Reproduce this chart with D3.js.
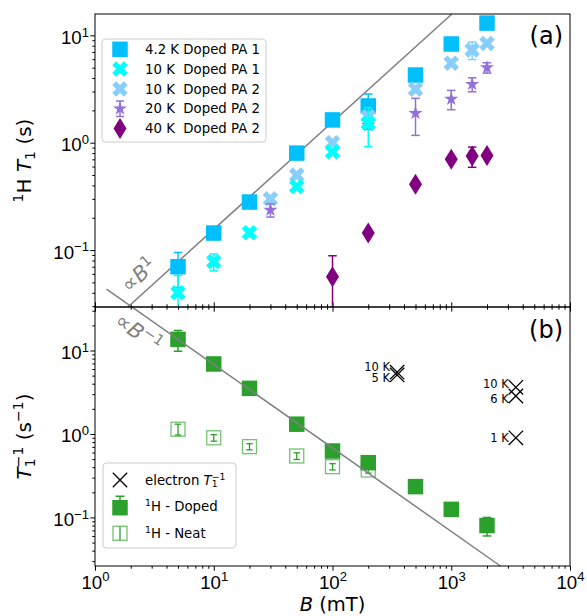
<!DOCTYPE html>
<html>
<head>
<meta charset="utf-8">
<script src="https://cdn.jsdelivr.net/npm/d3@7"></script>
<style>
body { margin: 0; background: #fff; }
svg { font-family: "DejaVu Sans", sans-serif; }
</style>
</head>
<body>
<script>
// ---- axes ----
var xDomain = [1, 1e4];
var yDomainA = [0.0295, 15.8];
var yDomainB = [0.0262, 33.2];
var xMajor = [1, 10, 100, 1000, 10000];
var yMajor = [0.1, 1, 10];

// ---- panel (a): 1H T1 (s) vs B (mT) ----
var b42 = [5, 10, 20, 50, 100, 200, 500, 1000, 2000];
var t42 = [0.070, 0.144, 0.28, 0.80, 1.63, 2.2, 4.27, 8.3, 13.0];
var e42 = [0.025, 0, 0, 0, 0, 0.64, 0, 0, 0];

var b10a = [5, 10, 20, 50, 100, 200];
var t10a = [0.040, 0.078, 0.145, 0.39, 0.82, 1.52];
var e10a = [0.018, 0.014, 0, 0, 0, 0.6];

var b10b = [30, 50, 100, 200, 500, 1000, 1500, 2000];
var t10b = [0.30, 0.50, 1.0, 1.75, 3.14, 5.5, 7.3, 8.4];
var e10b = [0, 0, 0, 0, 0, 0, 1.35, 0];

var b20 = [30, 200, 500, 1000, 1500, 2000];
var t20 = [0.236, 1.45, 1.88, 2.55, 3.5, 5.0];
var e20 = [0.033, 0.12, 0.71, 0.52, 0.52, 0.55];

var b40 = [100, 200, 500, 1000, 1500, 2000];
var t40 = [0.0565, 0.144, 0.41, 0.70, 0.75, 0.76];
var e40 = [0.032, 0, 0, 0, 0.16, 0];

var labelsA = ["4.2 K Doped PA 1", "10 K  Doped PA 1", "10 K  Doped PA 2", "20 K  Doped PA 2", "40 K  Doped PA 2"];

// ---- panel (b): T1^-1 (s^-1) vs B (mT) ----
var bDoped = [5, 10, 20, 50, 100, 200, 500, 1000, 2000];
var rDoped = [13.6, 6.9, 3.52, 1.31, 0.625, 0.453, 0.234, 0.125, 0.080];
var eDoped = [3.8, 0.3, 0.15, 0.06, 0.03, 0.03, 0.015, 0.008, 0.02];

var bNeat = [5, 10, 20, 50, 100, 200];
var rNeat = [1.14, 0.90, 0.705, 0.545, 0.406, 0.37];
var eNeat = [0.17, 0.08, 0.06, 0.05, 0.035, 0.03];

var bElec = [350, 350, 3500, 3500, 3500];
var rElec = [5.5, 5.1, 3.62, 2.85, 0.90];
var elecLabels = ["10 K", "5 K", "10 K", "6 K", "1 K"];
var elecNudge = [-5.5, 3.5, -3, 3, 0];

// guide lines: T1 = kA * B  and  1/T1 = kB / B
var kA = 0.0156;
var kB = 68;

window.onload = drawChart;

function drawChart(){

	var width = 587,
		height = 616;
	var left = 95, right = 570, topA = 14, mid = 307, bottom = 566;

	var svg = d3.select("body")
		.append("svg")
		.attr("width", width)
		.attr("height", height);

	var x = d3.scaleLog().domain(xDomain).range([left, right]);
	var yA = d3.scaleLog().domain(yDomainA).range([mid, topA]);
	var yB = d3.scaleLog().domain(yDomainB).range([bottom, mid]);

	// clip regions for the two panels
	var defs = svg.append("defs");
	defs.append("clipPath").attr("id", "clipA").append("rect")
		.attr("x", left).attr("y", topA).attr("width", right - left).attr("height", mid - topA);
	defs.append("clipPath").attr("id", "clipB").append("rect")
		.attr("x", left).attr("y", mid).attr("width", right - left).attr("height", bottom - mid);

	function minors(domain){
		var out = [];
		for (var k = -3; k <= 5; k++){
			for (var m = 2; m <= 9; m++){
				var v = m * Math.pow(10, k);
				if (v >= domain[0] && v <= domain[1]) out.push(v);
			}
		}
		return out;
	}

	// text with super/subscripts: parts = [[text, kind]]
	function rich(t, parts, fs){
		var shift = 0;
		parts.forEach(function(p){
			var kind = p[1] || "", target = 0, size = fs;
			if (kind == "sup") { target = -0.38 * fs; size = 0.7 * fs; }
			if (kind == "sub") { target = 0.2 * fs; size = 0.7 * fs; }
			if (kind == "subsup") {
				t.append("tspan").attr("dy", 0.2 * fs - shift).attr("font-size", 0.7 * fs).text(p[0]);
				t.append("tspan").attr("dy", -0.58 * fs).attr("dx", -0.445 * fs)
					.attr("font-size", 0.7 * fs).text(p[2]);
				shift = -0.38 * fs;
				return;
			}
			var ts = t.append("tspan").attr("dy", target - shift).attr("font-size", size).text(p[0]);
			if (kind == "i") ts.attr("font-style", "italic");
			shift = target;
		});
		return t;
	}

	function powParts(v){
		var e = Math.round(Math.log10(v));
		return [["10", ""], [String(e).replace("-", "\u2212"), "sup"]];
	}

	// ---- axes ----
	function styleAxis(g){
		g.select(".domain").remove();
		g.selectAll("line").attr("stroke", "#000").attr("stroke-width", 1);
	}

	[[yA, topA], [yB, mid]].forEach(function(pair){
		var ys = pair[0];
		svg.append("g").attr("transform", "translate(" + left + ",0)")
			.call(d3.axisLeft(ys).tickValues(yMajor).tickSize(4.7).tickFormat(""))
			.call(styleAxis)
			.selectAll(".tick").each(function(d){
				rich(d3.select(this).append("text")
					.attr("x", -6).attr("y", 8)
					.attr("text-anchor", "end")
					.attr("fill", "#000")
					.attr("font-size", 18.7), powParts(d), 18.7);
			});
		svg.append("g").attr("transform", "translate(" + left + ",0)")
			.call(d3.axisLeft(ys).tickValues(minors(ys.domain())).tickSize(2.7).tickFormat(""))
			.call(styleAxis);
	});

	// x ticks: top panel bottom (down), bottom panel top (up), bottom panel bottom (down)
	svg.append("g").attr("transform", "translate(0," + mid + ")")
		.call(d3.axisBottom(x).tickValues(xMajor).tickSize(4.7).tickFormat("")).call(styleAxis);
	svg.append("g").attr("transform", "translate(0," + mid + ")")
		.call(d3.axisBottom(x).tickValues(minors(xDomain)).tickSize(2.7).tickFormat("")).call(styleAxis);
	svg.append("g").attr("transform", "translate(0," + mid + ")")
		.call(d3.axisTop(x).tickValues(xMajor).tickSize(4.7).tickFormat("")).call(styleAxis);
	svg.append("g").attr("transform", "translate(0," + mid + ")")
		.call(d3.axisTop(x).tickValues(minors(xDomain)).tickSize(2.7).tickFormat("")).call(styleAxis);

	svg.append("g").attr("transform", "translate(0," + bottom + ")")
		.call(d3.axisBottom(x).tickValues(xMajor).tickSize(4.7).tickFormat(""))
		.call(styleAxis)
		.selectAll(".tick").each(function(d){
			rich(d3.select(this).append("text")
				.attr("y", 22.5)
				.attr("text-anchor", "middle")
				.attr("fill", "#000")
				.attr("font-size", 18.7), powParts(d), 18.7);
		});
	svg.append("g").attr("transform", "translate(0," + bottom + ")")
		.call(d3.axisBottom(x).tickValues(minors(xDomain)).tickSize(2.7).tickFormat("")).call(styleAxis);

	// ---- panel (a) ----
	var gA = svg.append("g").attr("clip-path", "url(#clipA)");

	// guide line proportional to B
	var bLo = yDomainA[0] / kA, bHi = yDomainA[1] / kA;
	gA.append("line")
		.attr("x1", x(bLo)).attr("y1", yA(kA * bLo))
		.attr("x2", x(bHi)).attr("y2", yA(kA * bHi))
		.attr("stroke", "#808080").attr("stroke-width", 1.5);

	var markers = {
		s: function(){ return d3.symbol(d3.symbolSquare, 15.5 * 15.5)(); },
		X: function(){ return d3.symbol(d3.symbolCross, 150)(); },
		star: function(){ return d3.symbol(d3.symbolStar, 62)(); },
		d: function(){ return "M0,-10.5L6.5,0L0,10.5L-6.5,0Z"; }
	};

	function errorbars(g, bs, vs, es, ys, color, cap, width){
		bs.forEach(function(b, i){
			if (!es[i]) return;
			var lo = vs[i] - es[i];
			if (lo <= 0) lo = ys.domain()[0] / 10;
			var cx = x(b), y1 = ys(lo), y2 = ys(vs[i] + es[i]);
			g.append("line").attr("x1", cx).attr("x2", cx).attr("y1", y1).attr("y2", y2)
				.attr("stroke", color).attr("stroke-width", width || 1.5);
			[y1, y2].forEach(function(yy){
				g.append("line").attr("x1", cx - cap / 2).attr("x2", cx + cap / 2)
					.attr("y1", yy).attr("y2", yy)
					.attr("stroke", color).attr("stroke-width", width || 1.5);
			});
		});
	}

	function series(g, bs, vs, es, ys, color, marker){
		errorbars(g, bs, vs, es, ys, color, 8.5);
		g.selectAll(null).data(bs).enter()
			.append("path")
			.attr("d", markers[marker]())
			.attr("transform", function(b, i){
				return "translate(" + x(b) + "," + ys(vs[i]) + ")" + (marker == "X" ? " rotate(45)" : "");
			})
			.attr("fill", color);
	}

	var colorsA = ["#00bfff", "#00ffff", "#87cefa", "#9370db", "#800080"];
	var markersA = ["s", "X", "X", "star", "d"];

	series(gA, b42, t42, e42, yA, colorsA[0], "s");
	series(gA, b10b, t10b, e10b, yA, colorsA[2], "X");
	series(gA, b20, t20, e20, yA, colorsA[3], "star");
	series(gA, b40, t40, e40, yA, colorsA[4], "d");
	series(gA, b10a, t10a, e10a, yA, colorsA[1], "X");

	// ---- panel (b) ----
	var gB = svg.append("g").attr("clip-path", "url(#clipB)");

	// neat: open squares with small bars inside
	errorbars(gB, bNeat, rNeat, eNeat, yB, "#2ca02c", 6.5, 1.3);
	gB.selectAll(".neat").data(bNeat).enter()
		.append("rect")
		.attr("class", "neat")
		.attr("x", function(b){ return x(b) - 7; })
		.attr("y", function(b, i){ return yB(rNeat[i]) - 7; })
		.attr("width", 14).attr("height", 14)
		.attr("fill", "none")
		.attr("stroke", "#2ca02c").attr("stroke-opacity", 0.65).attr("stroke-width", 1.3);

	series(gB, bDoped, rDoped, eDoped, yB, "#2ca02c", "s");

	// guide line proportional to 1/B (not clipped, runs into panel a)
	var bStart = 1.25, bEnd = kB / yDomainB[0];
	svg.append("line")
		.attr("x1", x(bStart)).attr("y1", yB(kB / bStart))
		.attr("x2", x(bEnd)).attr("y2", yB(kB / bEnd))
		.attr("stroke", "#808080").attr("stroke-width", 1.5);

	// electron T1^-1
	var elec = svg.append("g");
	bElec.forEach(function(b, i){
		var cx = x(b), cy = yB(rElec[i]), r = 7.2;
		elec.append("path")
			.attr("d", "M" + (cx - r) + "," + (cy - r) + "L" + (cx + r) + "," + (cy + r) +
				"M" + (cx - r) + "," + (cy + r) + "L" + (cx + r) + "," + (cy - r))
			.attr("stroke", "#000").attr("stroke-width", 1.3).attr("fill", "none");
		elec.append("text")
			.attr("x", cx - 7).attr("y", cy + elecNudge[i] + 4)
			.attr("text-anchor", "end")
			.attr("font-size", 11.5)
			.text(elecLabels[i]);
	});

	// ---- frames ----
	[[topA, mid], [mid, bottom]].forEach(function(p){
		svg.append("rect")
			.attr("x", left).attr("y", p[0])
			.attr("width", right - left).attr("height", p[1] - p[0])
			.attr("fill", "none").attr("stroke", "#000").attr("stroke-width", 1);
	});

	// ---- guide labels ----
	var angA = Math.atan2(yA(kA * 100) - yA(kA * 10), x(100) - x(10)) * 180 / Math.PI;
	var angB = Math.atan2(yB(kB / 100) - yB(kB / 10), x(100) - x(10)) * 180 / Math.PI;
	rich(svg.append("text")
		.attr("transform", "translate(143.5,280.5) rotate(" + angA + ")")
		.attr("text-anchor", "middle").attr("dy", 7)
		.attr("fill", "#808080").attr("font-size", 21),
		[["\u221d", ""], ["B", "i"], ["1", "sup"]], 21);
	rich(svg.append("text")
		.attr("transform", "translate(134.3,338.5) rotate(" + angB + ")")
		.attr("text-anchor", "middle").attr("dy", 7)
		.attr("fill", "#808080").attr("font-size", 21),
		[["\u221d", ""], ["B", "i"], ["\u22121", "sup"]], 21);

	// ---- panel letters ----
	svg.append("text").attr("x", 563).attr("y", 43.5).attr("text-anchor", "end")
		.attr("font-size", 24).text("(a)");
	svg.append("text").attr("x", 563).attr("y", 338).attr("text-anchor", "end")
		.attr("font-size", 24).text("(b)");

	// ---- axis labels ----
	rich(svg.append("text")
		.attr("x", (left + right) / 2).attr("y", 611)
		.attr("text-anchor", "middle").attr("font-size", 19.5),
		[["B", "i"], [" (mT)", ""]], 19.5);
	rich(svg.append("text")
		.attr("transform", "translate(31," + (topA + mid) / 2 + ") rotate(-90)")
		.attr("text-anchor", "middle").attr("font-size", 20),
		[["1", "sup"], ["H ", ""], ["T", "i"], ["1", "sub"], [" (s)", ""]], 20);
	rich(svg.append("text")
		.attr("transform", "translate(31," + (mid + bottom) / 2 + ") rotate(-90)")
		.attr("text-anchor", "middle").attr("font-size", 20),
		[["T", "i"], ["1", "subsup", "\u22121"], [" (s", ""], ["\u22121", "sup"], [")", ""]], 20);

	// ---- legend (a) ----
	var legA = svg.append("g");
	legA.append("rect")
		.attr("x", 102).attr("y", 39).attr("width", 164).attr("height", 103)
		.attr("rx", 3.5).attr("fill", "#fff").attr("fill-opacity", 0.8)
		.attr("stroke", "#cccccc");
	labelsA.forEach(function(lab, i){
		var cy = 49.3 + i * 19.8;
		if (markersA[i] == "star"){
			legA.append("path").attr("d", "M116,"+(cy-7.7)+"h8M120,"+(cy-7.7)+"v15.4M116,"+(cy+7.7)+"h8")
				.attr("stroke", colorsA[i]).attr("stroke-width", 1.5).attr("fill", "none");
		}
		legA.append("path")
			.attr("d", markers[markersA[i]]())
			.attr("transform", "translate(120," + cy + ")" + (markersA[i] == "X" ? " rotate(45)" : ""))
			.attr("fill", colorsA[i]);
		legA.append("text")
			.attr("x", 145).attr("y", cy + 4.7)
			.attr("font-size", 13.3)
			.style("white-space", "pre")
			.text(lab);
	});

	// ---- legend (b) ----
	var legB = svg.append("g");
	legB.append("rect")
		.attr("x", 103).attr("y", 463).attr("width", 133).attr("height", 85)
		.attr("rx", 3.5).attr("fill", "#fff").attr("fill-opacity", 0.8)
		.attr("stroke", "#cccccc");
	var rowsB = [480, 506.7, 533.3];
	legB.append("path")
		.attr("d", "M112.8,472.8L127.2,487.2M112.8,487.2L127.2,472.8")
		.attr("stroke", "#000").attr("stroke-width", 1.3);
	legB.append("path").attr("d", "M120," + (rowsB[1] - 10.5) + "v10.5M115.5," + (rowsB[1] - 10.5) + "h9")
		.attr("stroke", "#2ca02c").attr("stroke-width", 1.5);
	legB.append("path").attr("d", markers.s()).attr("transform", "translate(120," + (rowsB[1] + 1) + ")")
		.attr("fill", "#2ca02c");
	legB.append("rect").attr("x", 113).attr("y", rowsB[2] - 7).attr("width", 14).attr("height", 14)
		.attr("fill", "none").attr("stroke", "#2ca02c").attr("stroke-opacity", 0.65).attr("stroke-width", 1.3);
	legB.append("path").attr("d", "M120," + (rowsB[2] - 7) + "v14")
		.attr("stroke", "#2ca02c").attr("stroke-width", 1.3);
	rich(legB.append("text").attr("x", 145).attr("y", rowsB[0] + 4.7).attr("font-size", 13.3),
		[["electron ", ""], ["T", "i"], ["1", "subsup", "\u22121"]], 13.3);
	rich(legB.append("text").attr("x", 145).attr("y", rowsB[1] + 4.7).attr("font-size", 13.3),
		[["1", "sup"], ["H - Doped", ""]], 13.3);
	rich(legB.append("text").attr("x", 145).attr("y", rowsB[2] + 4.7).attr("font-size", 13.3),
		[["1", "sup"], ["H - Neat", ""]], 13.3);
}
</script>
</body>
</html>
